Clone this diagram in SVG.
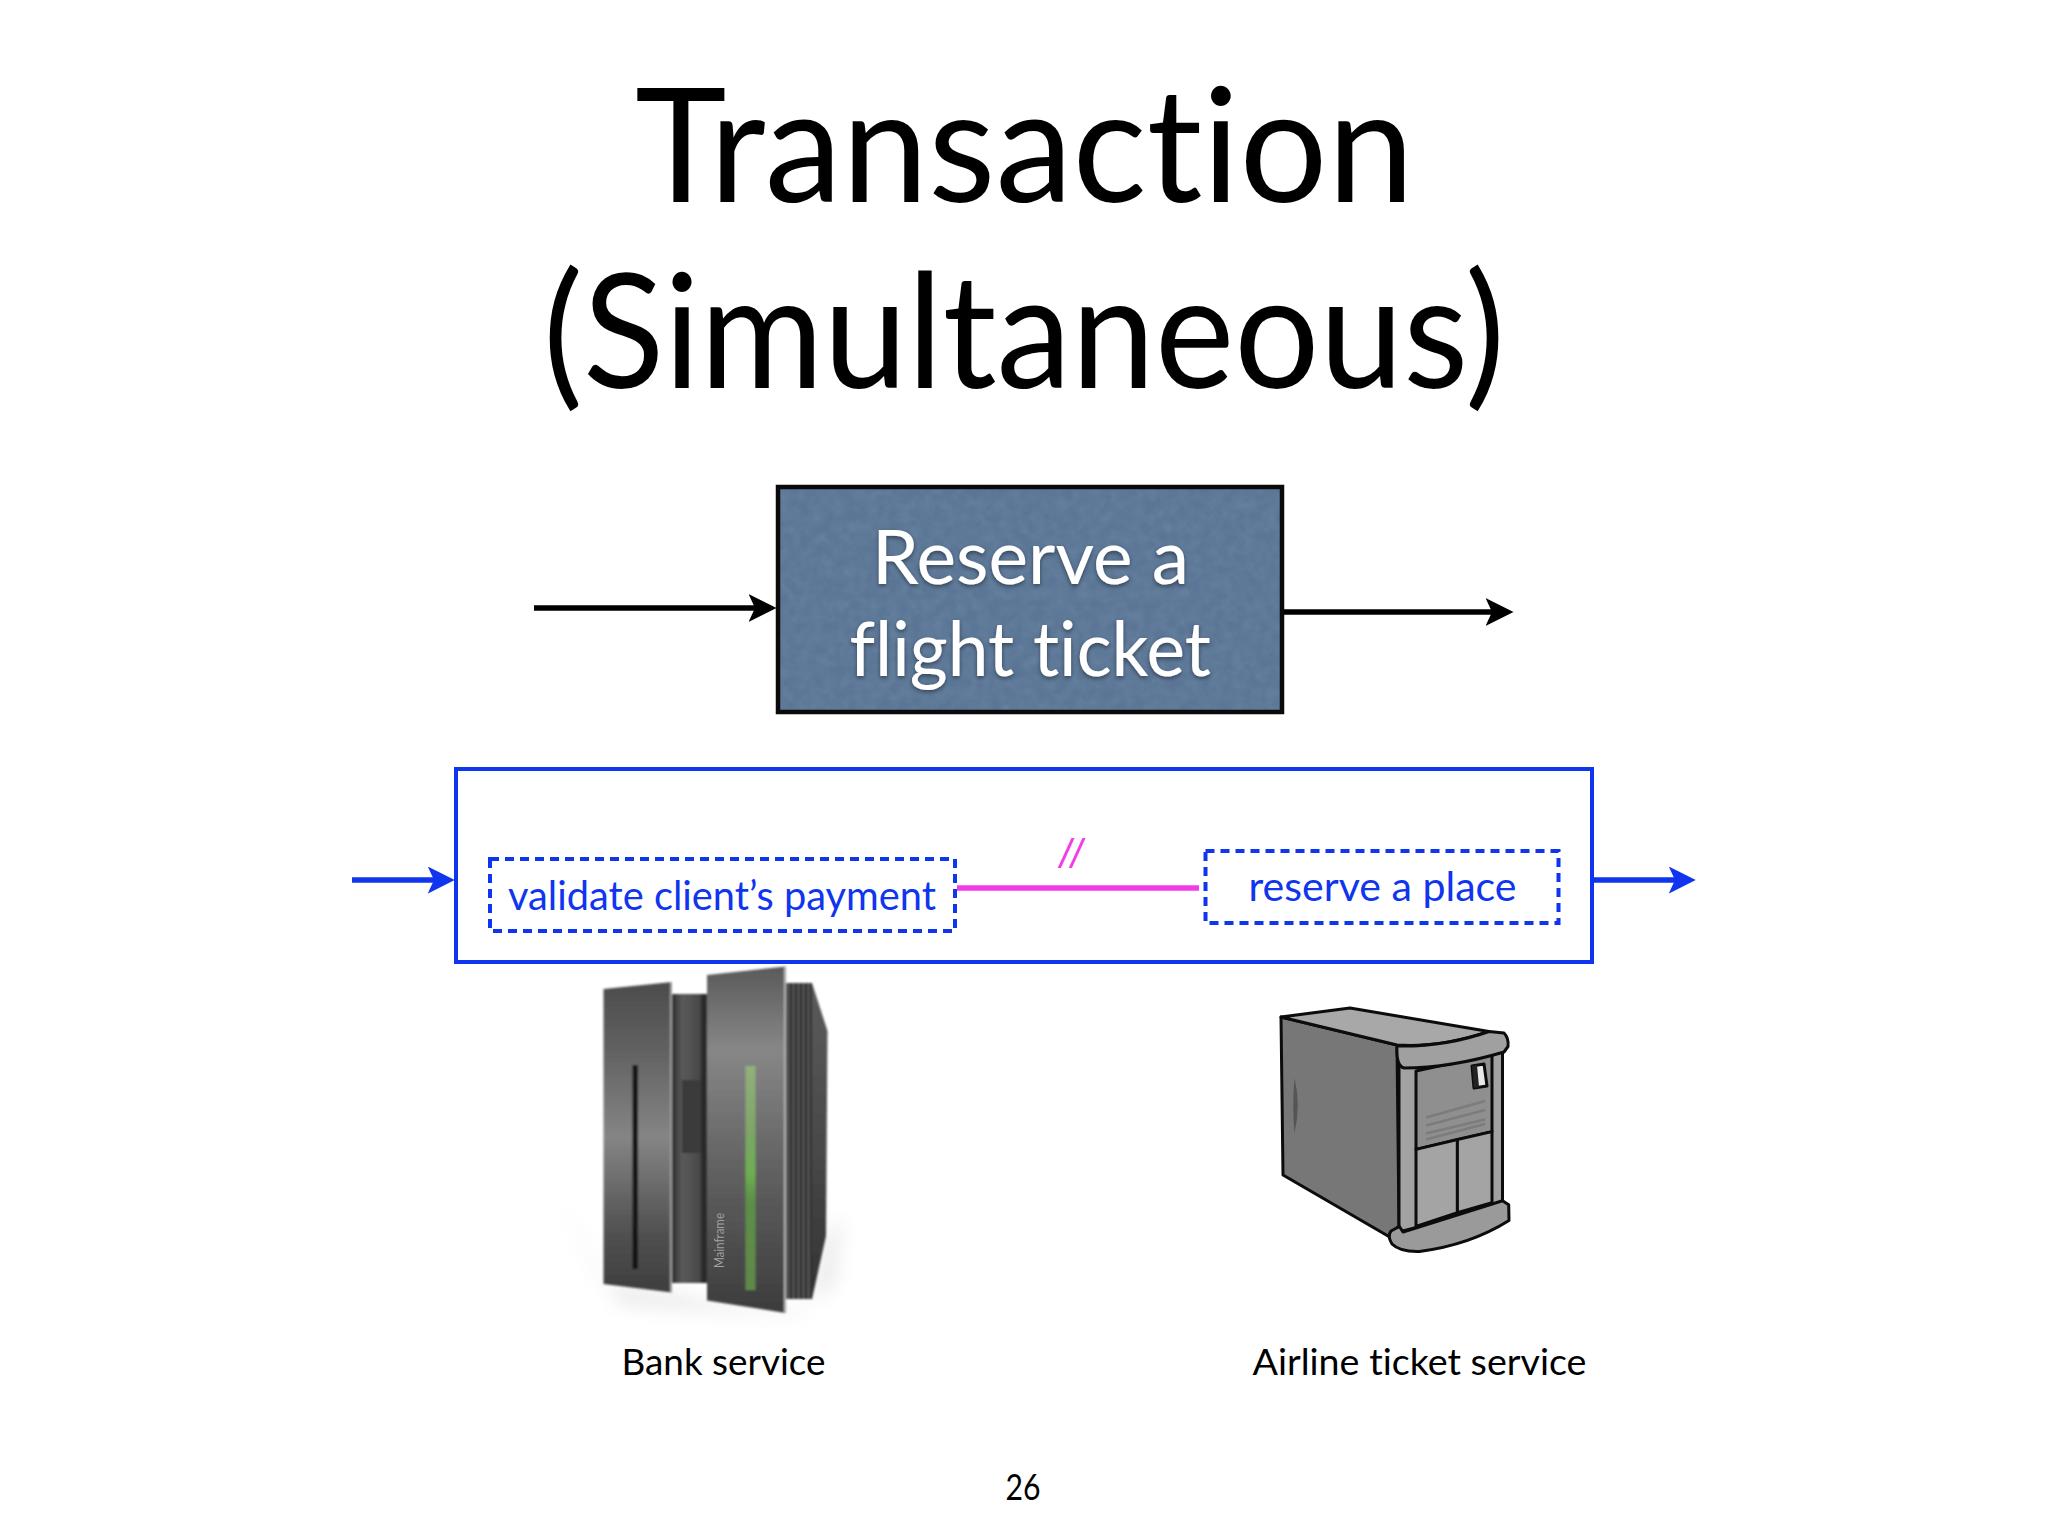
<svg xmlns="http://www.w3.org/2000/svg" width="2048" height="1536" viewBox="0 0 2048 1536">
<style>
text{font-family:"Lato","Noto Sans","Liberation Sans",sans-serif;font-variant-ligatures:none}
.title{font-size:160px;fill:#000}
.inner{font-size:76px;fill:#fff;filter:url(#txtShadow)}
.blue{font-size:41px;fill:#1035ee}
.cap{font-size:37px;fill:#000}
.dash{fill:none;stroke:#1035ee;stroke-width:4;stroke-dasharray:9 6}
.k{stroke:#000;stroke-width:5.5;fill:none}
.b{stroke:#1035ee;stroke-width:5.5;fill:none}
.o{stroke:#0c0c0c;stroke-width:3;stroke-linejoin:round}
.vent{stroke:#7c7c7c;stroke-width:2.6;fill:none}
</style>
<defs>
<marker id="hk" markerUnits="userSpaceOnUse" markerWidth="28" markerHeight="30" viewBox="0 0 26 26" refX="6" refY="13" orient="auto"><path d="M0 0L26 13L0 26L6 13Z" fill="#000"/></marker>
<marker id="hb" markerUnits="userSpaceOnUse" markerWidth="27" markerHeight="27" viewBox="0 0 26 26" refX="6" refY="13" orient="auto"><path d="M0 0L26 13L0 26L6 13Z" fill="#1035ee"/></marker>
<filter id="txtShadow" x="-10%" y="-20%" width="120%" height="150%"><feDropShadow dx="0" dy="2" stdDeviation="2" flood-color="#000" flood-opacity=".45"/></filter>
<filter id="grain" x="0" y="0" width="100%" height="100%" color-interpolation-filters="sRGB"><feTurbulence type="fractalNoise" baseFrequency=".09" numOctaves="3" seed="4"/><feColorMatrix values="0 0 0 0 .47  0 0 0 0 .57  0 0 0 0 .68  .5 .2 .2 0 -.3"/><feComposite in2="SourceGraphic" operator="in"/><feMerge><feMergeNode in="SourceGraphic"/><feMergeNode/></feMerge></filter>
<filter id="soft" x="-30%" y="-30%" width="160%" height="160%"><feGaussianBlur stdDeviation="9"/></filter>
<filter id="b1"><feGaussianBlur stdDeviation="1"/></filter>
<linearGradient id="pL" x1="0" y1="0" x2="0" y2="1"><stop offset="0" stop-color="#4c4c4c"/><stop offset=".2" stop-color="#5f5f5f"/><stop offset=".5" stop-color="#858585"/><stop offset=".8" stop-color="#525252"/><stop offset="1" stop-color="#3e3e3e"/></linearGradient>
<linearGradient id="pR" x1="0" y1="0" x2="0" y2="1"><stop offset="0" stop-color="#5a5a5a"/><stop offset=".24" stop-color="#878787"/><stop offset=".6" stop-color="#606060"/><stop offset="1" stop-color="#3c3c3c"/></linearGradient>
<linearGradient id="gr" x1="0" y1="0" x2="0" y2="1"><stop offset="0" stop-color="#92b07c"/><stop offset=".3" stop-color="#7ea567"/><stop offset=".48" stop-color="#6cb052"/><stop offset=".6" stop-color="#5d8f48"/><stop offset="1" stop-color="#5f8848"/></linearGradient>
<linearGradient id="mid" x1="0" y1="0" x2="1" y2="0"><stop offset="0" stop-color="#2a2a2a"/><stop offset=".3" stop-color="#5a5a5a"/><stop offset=".75" stop-color="#4a4a4a"/><stop offset="1" stop-color="#1e1e1e"/></linearGradient>
<linearGradient id="side" x1="0" y1="0" x2="0" y2="1"><stop offset="0" stop-color="#5a5a5a"/><stop offset=".5" stop-color="#4a4a4a"/><stop offset="1" stop-color="#333"/></linearGradient>
<linearGradient id="finR" x1="786" y1="0" x2="791" y2="0" gradientUnits="userSpaceOnUse" spreadMethod="repeat"><stop offset="0" stop-color="#262626"/><stop offset=".5" stop-color="#5c5c5c"/><stop offset="1" stop-color="#262626"/></linearGradient>
</defs>
<rect width="2048" height="1536" fill="#fff"/>
<g id="title">
<text class="title" x="635" y="202" textLength="779" lengthAdjust="spacingAndGlyphs">Transaction</text>
<text class="title" x="543" y="388" textLength="962" lengthAdjust="spacingAndGlyphs">(Simultaneous)</text>
</g>
<g id="node-reserve-flight">
<rect x="778" y="487" width="504" height="225" fill="#5a7595" filter="url(#grain)"/>
<rect x="778" y="487" width="504" height="225" fill="none" stroke="#0a0a0a" stroke-width="4.500"/>
<text class="inner" x="872" y="583.500" textLength="317" lengthAdjust="spacingAndGlyphs">Reserve a</text>
<text class="inner" x="849.500" y="675.500" textLength="361.500" lengthAdjust="spacingAndGlyphs">flight ticket</text>
</g>
<g id="node-composite">
<rect x="456" y="769" width="1136" height="193" fill="#fff" stroke="#1035ee" stroke-width="4"/>
</g>
<g id="node-validate">
<rect class="dash" x="490" y="859" width="465" height="72"/>
<text class="blue" x="508" y="910" textLength="428" lengthAdjust="spacingAndGlyphs">validate client’s payment</text>
</g>
<g id="node-reserve-place">
<rect class="dash" x="1205.500" y="851" width="353" height="72"/>
<text class="blue" x="1248.500" y="901" textLength="268" lengthAdjust="spacingAndGlyphs">reserve a place</text>
</g>
<g id="connectors">
<line class="k" x1="534" y1="608" x2="755" y2="608" marker-end="url(#hk)"/>
<line class="k" x1="1284" y1="612" x2="1492" y2="612" marker-end="url(#hk)"/>
<line class="b" x1="352" y1="880" x2="434" y2="880" marker-end="url(#hb)"/>
<line class="b" x1="1592" y1="880" x2="1675" y2="880" marker-end="url(#hb)"/>
<line x1="957" y1="888" x2="1199" y2="888" stroke="#f23ce8" stroke-width="5.500"/>
<text x="1060" y="868" font-size="40" font-style="italic" fill="#f23ce8" style="font-family:'Liberation Sans',sans-serif">//</text>
</g>
<g id="node-bank">
<path d="M560 1200L603 1284L672 1293L707 1301L786 1313L812 1299L826 1236L842 1216L835 1285L790 1316L620 1305Z" fill="#c4c4c4" opacity=".35" filter="url(#soft)"/>
<g filter="url(#b1)">
<rect x="671" y="994" width="37" height="289" fill="url(#mid)"/>
<rect x="682" y="1080" width="19" height="73" fill="#3a3a3a"/>
<rect x="701" y="994" width="6" height="289" fill="#2a2a2a"/>
<path d="M812 983L827.500 1031L826 1236L812 1299Z" fill="url(#side)"/>
<rect x="785" y="983" width="27" height="316" fill="url(#finR)"/>
<path d="M603.500 989L672 982L672 1292.500L603.500 1284Z" fill="url(#pL)"/>
<rect x="670" y="982" width="2" height="310" fill="#9a9a9a"/>
<path d="M707 975L785.500 966.500L785.500 1313L707 1300.500Z" fill="url(#pR)"/>
<rect x="784" y="966.500" width="2.200" height="346" fill="#b0b0b0"/>
<rect x="632.500" y="1065" width="5.500" height="204" fill="#151515"/>
<rect x="745.500" y="1066" width="10" height="224" fill="url(#gr)"/>
</g>
<text transform="translate(724 1268) rotate(-90)" font-size="13" fill="#a0a0a0" textLength="55" lengthAdjust="spacingAndGlyphs">Mainframe</text>
<text class="cap" x="621.500" y="1375" textLength="204" lengthAdjust="spacingAndGlyphs">Bank service</text>
</g>
<g id="node-airline">
<g class="o">
<path d="M1281 1017L1283 1175L1388 1236L1399 1226L1397 1045Z" fill="#777"/>
<path d="M1281 1017L1350 1008L1489 1031.500Q1440 1048 1397 1045Z" fill="#a8a8a8"/>
<path d="M1399 1050H1502.500V1205L1399 1232Z" fill="#a2a2a2"/>
<path d="M1416 1071L1492 1054.500V1131.600L1416 1149.400Z" fill="#8f8f8f"/>
<path d="M1416 1149.400L1457.400 1139.500V1212.600L1416 1226.500Z" fill="#a4a4a4"/>
<path d="M1457.400 1139.500L1492 1131.600V1202.700L1457.400 1212.600Z" fill="#a4a4a4"/>
<path d="M1397 1046Q1445 1047 1489 1031.500L1504 1033Q1509 1038 1508 1046.500L1504 1052Q1450 1068 1404 1068Q1396 1066 1397 1046Z" fill="#a0a0a0"/>
<path d="M1415 1228.400L1502.500 1200.800L1508.700 1204.700L1509 1220.500Q1470 1245 1419.500 1251.400Q1400 1252 1392 1244Q1387 1236 1391 1231L1399.400 1226.500L1403 1232Z" fill="#9a9a9a"/>
<path d="M1472 1066L1484 1064L1487 1086L1474 1088Z" fill="#e8e8e8"/>
<path d="M1472 1066L1477 1065L1479 1087L1474 1088Z" fill="#222" stroke="none"/>
</g>
<path d="M1294.500 1078Q1301 1105 1294.500 1133.500Q1292 1105 1294.500 1078Z" fill="#555"/>
<path class="vent" d="M1426 1117.500L1485 1101M1426 1125.500L1485 1110M1426 1133.500L1485 1119.500M1426 1139.500L1485 1124"/>
<text class="cap" x="1252.500" y="1375" textLength="334" lengthAdjust="spacingAndGlyphs">Airline ticket service</text>
</g>
<text id="page" class="cap" x="1005.500" y="1500" textLength="35" lengthAdjust="spacingAndGlyphs">26</text>
</svg>
